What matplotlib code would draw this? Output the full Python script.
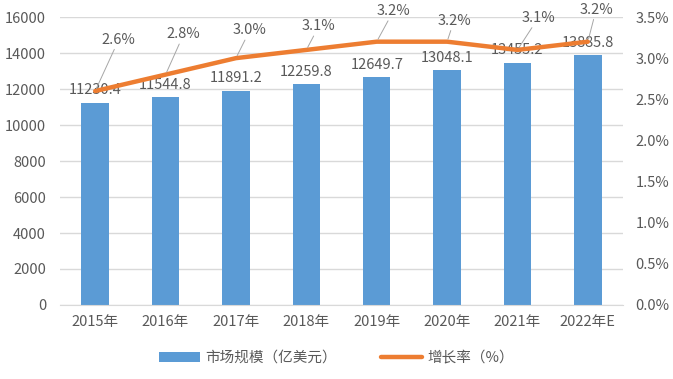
import matplotlib.pyplot as plt
import numpy as np
from matplotlib.ticker import FuncFormatter

plt.rcParams['font.family'] = ['Noto Sans CJK SC', 'DejaVu Sans']

# -----------------------------
# DATA
# -----------------------------
years = ["2015年", "2016年", "2017年", "2018年", "2019年", "2020年", "2021年", "2022年E"]
market_size = [11230.4, 11544.8, 11891.2, 12259.8, 12649.7, 13048.1, 13455.2, 13885.8]
growth_rate = [2.6, 2.8, 3.0, 3.1, 3.2, 3.2, 3.1, 3.2]

# label offsets in points for the growth labels (dx, dy)
rate_offsets = [(17, 32), (13, 24), (10, 15), (9, 12), (12, 17), (5, 10), (15, 18), (6, 18)]

BLUE = "#5B9BD5"
ORANGE = "#ED7D31"
GRAY = "#595959"
GRID = "#D9D9D9"
FS = 10.5

fig = plt.figure(figsize=(6.73, 3.79), dpi=100)
ax = fig.add_axes([60 / 673, 1 - 305 / 379, 563 / 673, 288 / 379])
ax2 = ax.twinx()

x = np.arange(len(years))

# -----------------------------
# BARS
# -----------------------------
ax.bar(x, market_size, width=0.39, color=BLUE, label="市场规模（亿美元）", zorder=2)
ax.set_ylim(0, 16000)
ax.set_yticks(range(0, 16001, 2000))
ax.set_xlim(-0.5, len(years) - 0.5)
ax.set_xticks(x)
ax.set_xticklabels(years)
ax.grid(axis="y", color=GRID, linewidth=1, zorder=0)
ax.set_axisbelow(True)
for s in ["top", "right", "left"]:
    ax.spines[s].set_visible(False)
ax.spines["bottom"].set_color(GRID)
ax.tick_params(axis="both", length=0, colors=GRAY, labelsize=FS)
ax.tick_params(axis="x", pad=7)
ax.tick_params(axis="y", pad=10)

for xi, v in zip(x, market_size):
    ax.annotate(f"{v:.1f}", (xi, v), xytext=(0, 4), textcoords="offset points",
                ha="center", va="bottom", fontsize=FS, color=GRAY, zorder=5)

# -----------------------------
# LINE
# -----------------------------
ax2.plot(x, growth_rate, color=ORANGE, linewidth=3.2, solid_capstyle="round",
         solid_joinstyle="round", label="增长率（%）", zorder=3)
ax2.set_ylim(0, 3.5)
ax2.set_yticks(np.arange(0, 3.51, 0.5))
ax2.yaxis.set_major_formatter(FuncFormatter(lambda v, p: f"{v:.1f}%"))
for s in ["top", "right", "left", "bottom"]:
    ax2.spines[s].set_visible(False)
ax2.tick_params(axis="y", length=0, colors=GRAY, labelsize=FS, pad=9)

for xi, v, (dx, dy) in zip(x, growth_rate, rate_offsets):
    ax2.annotate(f"{v:.1f}%", (xi, v), xytext=(dx, dy), textcoords="offset points",
                 ha="center", va="bottom", fontsize=FS, color=GRAY,
                 arrowprops=dict(arrowstyle="-", color="#A6A6A6", lw=0.7,
                                 shrinkA=0, shrinkB=2))

# -----------------------------
# LEGEND
# -----------------------------
h1, l1 = ax.get_legend_handles_labels()
h2, l2 = ax2.get_legend_handles_labels()
fig.legend(h1 + h2, l1 + l2, loc="center", bbox_to_anchor=(0.5, 1 - 358 / 379),
           ncol=2, frameon=False, fontsize=FS, labelcolor=GRAY,
           handlelength=2.8, handleheight=0.7, columnspacing=3.0, handletextpad=0.4)

plt.savefig("out.png", dpi=100)
